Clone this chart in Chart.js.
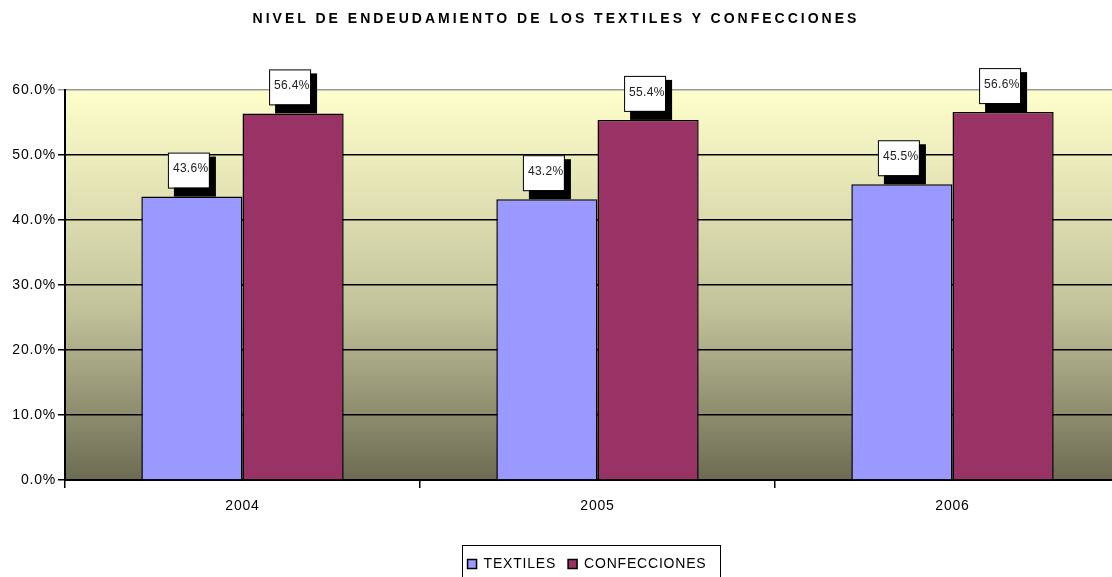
<!DOCTYPE html>
<html>
<head>
<meta charset="utf-8">
<script src="https://cdn.jsdelivr.net/npm/chart.js@4"></script>
<style>
  html, body { margin: 0; padding: 0; background: #fff; overflow: hidden; }
  #wrap { position: relative; width: 1130px; height: 577px; }
  #title {
    position: absolute; left: 0; top: 10px; width: 1112px; text-align: center;
    font: bold 14px "Liberation Sans", Arial, sans-serif; letter-spacing: 3px; color: #000;
  }
</style>
</head>
<body>
<div id="wrap">
  <div id="title">NIVEL DE ENDEUDAMIENTO DE LOS TEXTILES Y CONFECCIONES</div>
  <canvas id="myChart" width="1130" height="577"></canvas>
</div>
<script>
var years = ['2004', '2005', '2006']
var textiles = [43.6, 43.2, 45.5]
var confecciones = [56.4, 55.4, 56.6]
var yTicks = [0, 10, 20, 30, 40, 50, 60]

var fontFam = '"Liberation Sans", Arial, sans-serif'

// el texto original se ve algo mas ancho
const spacingPlugin = {
  id: 'spacing',
  beforeUpdate(chart) { chart.ctx.letterSpacing = '0.8px' },
  beforeDraw(chart) { chart.ctx.letterSpacing = '0.8px' },
  afterLayout(chart) {
    // mover la leyenda hacia donde esta en el original
    chart.legend.left += 22
    chart.legend.right += 22
    chart.legend.top += 4
    chart.legend.bottom += 4
  }
}

// degradado del area de trazado
const bgPlugin = {
  id: 'bg',
  beforeDraw(chart) {
    const a = chart.chartArea, ctx = chart.ctx
    const g = ctx.createLinearGradient(0, a.top, 0, a.bottom)
    g.addColorStop(0, '#FFFFCC')
    g.addColorStop(0.55, '#C4C49C')
    g.addColorStop(1, '#6C6C53')
    ctx.save()
    ctx.fillStyle = g
    ctx.fillRect(a.left, a.top, a.right - a.left, a.bottom - a.top)
    ctx.restore()
  }
}

// etiquetas con caja blanca y sombra negra
const labelPlugin = {
  id: 'boxLabels',
  afterDatasetsDraw(chart) {
    const ctx = chart.ctx
    ctx.save()
    chart.data.datasets.forEach((ds, i) => {
      chart.getDatasetMeta(i).data.forEach((bar, j) => {
        const w = 41, h = 35
        const x = bar.x - 24, y = bar.y - 44
        ctx.fillStyle = '#000'
        ctx.fillRect(x + 6, y + 4, w + 1, bar.y - y - 4)
        ctx.fillStyle = '#fff'
        ctx.fillRect(x, y, w, h)
        ctx.strokeStyle = '#000'
        ctx.lineWidth = 1
        ctx.strokeRect(x + 0.5, y + 0.5, w, h)
        ctx.fillStyle = '#222'
        ctx.letterSpacing = '0.3px'
        ctx.font = '12px ' + fontFam
        ctx.textBaseline = 'middle'
        ctx.fillText(ds.data[j].toFixed(1) + '%', x + 5, y + h / 2 - 1)
      })
    })
    // marco de la leyenda
    ctx.strokeStyle = '#000'
    ctx.lineWidth = 1
    ctx.strokeRect(462.5, 545.5, 258, 40)
    ctx.restore()
  }
}

const data = {
  labels: years,
  datasets: [{
    label: 'TEXTILES',
    backgroundColor: '#9999FF',
    borderColor: '#000',
    borderWidth: 1.5,
    data: textiles
  }, {
    label: 'CONFECCIONES',
    backgroundColor: '#993366',
    borderColor: '#000',
    borderWidth: 1.5,
    data: confecciones
  }]
}

const config = {
  type: 'bar',
  data: data,
  options: {
    responsive: false,
    animation: false,
    layout: { padding: { top: 90, right: 0, left: 0, bottom: 0 } },
    categoryPercentage: 0.57,
    barPercentage: 1,
    plugins: {
      legend: {
        position: 'bottom',
        labels: {
          boxWidth: 9, boxHeight: 9, padding: 12,
          color: '#000',
          font: { family: fontFam, size: 14 }
        }
      },
      tooltip: { enabled: false }
    },
    scales: {
      x: {
        grid: { display: true, offset: true, drawOnChartArea: false, color: '#000', tickLength: 8, lineWidth: 1.5 },
        border: { color: '#000', width: 2 },
        ticks: { color: '#000', padding: 10, font: { family: fontFam, size: 14 } },
        afterFit(s) { s.height = 61 }
      },
      y: {
        min: 0, max: 60,
        afterBuildTicks(s) { s.ticks = yTicks.map(v => ({ value: v })) },
        grid: {
          color: ctx => ctx.tick && ctx.tick.value === 60 ? '#999' : '#000',
          lineWidth: 1.5, tickLength: 7
        },
        border: { color: '#000', width: 2 },
        ticks: {
          color: '#000', padding: 2,
          font: { family: fontFam, size: 14 },
          callback: v => v.toFixed(1) + '%'
        },
        afterFit(s) { s.width = 65 }
      }
    }
  },
  plugins: [spacingPlugin, bgPlugin, labelPlugin]
}

const myChart = new Chart(document.getElementById('myChart'), config)
</script>
</body>
</html>
